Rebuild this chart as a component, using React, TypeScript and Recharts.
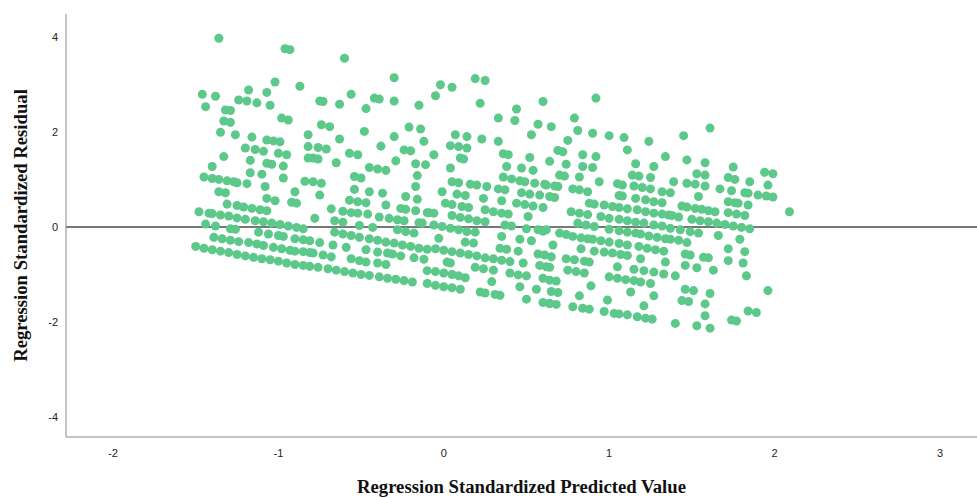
import React from "react";
import {
  ScatterChart,
  Scatter,
  XAxis,
  YAxis,
  ZAxis,
  ReferenceLine,
  Label,
} from "recharts";

const xTicks = [-2, -1, 0, 1, 2, 3];
const yTicks = [-4, -2, 0, 2, 4];

// predicted value, residual, left to right
const leftCases = [
  [-1.36, 3.97], [-0.96, 3.75], [-0.93, 3.73], [-1.02, 3.05], [-0.87, 2.96], [-1.18, 2.88],
  [-1.46, 2.79], [-1.38, 2.75], [-1.07, 2.83], [-1.24, 2.67], [-1.19, 2.65], [-1.13, 2.61],
  [-1.44, 2.53], [-1.05, 2.56], [-1.32, 2.46], [-1.29, 2.45], [-0.98, 2.29], [-0.94, 2.25],
  [-1.33, 2.23], [-1.29, 2.2], [-1.35, 1.99], [-1.26, 1.94], [-1.16, 1.89], [-1.07, 1.83],
  [-1.03, 1.81], [-0.99, 1.79], [-0.82, 1.94], [-1.2, 1.66], [-1.14, 1.63], [-1.09, 1.59],
  [-1.0, 1.55], [-0.95, 1.52], [-0.82, 1.69], [-1.33, 1.48], [-1.17, 1.4], [-1.07, 1.34],
  [-1.04, 1.32], [-0.97, 1.28], [-0.82, 1.45], [-1.4, 1.27], [-1.17, 1.14], [-1.1, 1.11],
  [-0.97, 1.03], [-1.45, 1.05], [-1.4, 1.02], [-1.36, 1.0], [-1.31, 0.97], [-1.27, 0.95],
  [-1.25, 0.93], [-1.19, 0.91], [-0.84, 0.96], [-1.08, 0.85], [-1.36, 0.74], [-1.32, 0.72],
  [-0.9, 0.74], [-1.07, 0.6], [-1.02, 0.55], [-0.92, 0.52], [-0.89, 0.5], [-1.31, 0.48],
  [-1.25, 0.45], [-1.21, 0.42], [-1.16, 0.39], [-1.11, 0.36], [-1.07, 0.34], [-1.48, 0.32],
  [-1.42, 0.29], [-1.4, 0.28], [-1.35, 0.25], [-1.3, 0.23], [-1.25, 0.19], [-1.2, 0.16],
  [-1.14, 0.13], [-1.09, 0.11], [-1.04, 0.08], [-0.99, 0.05], [-0.94, 0.02], [-0.89, -0.01],
  [-0.85, -0.04], [-1.44, 0.06], [-1.38, 0.02], [-1.29, -0.04], [-1.26, -0.05], [-1.12, -0.11],
  [-1.06, -0.15], [-1.0, -0.18], [-0.97, -0.2], [-0.9, -0.25], [-0.85, -0.27], [-0.81, -0.29],
  [-1.39, -0.22], [-1.34, -0.25], [-1.29, -0.28], [-1.24, -0.31], [-1.18, -0.33], [-1.13, -0.36],
  [-1.09, -0.39], [-1.03, -0.43], [-0.98, -0.46], [-0.93, -0.49], [-0.9, -0.51], [-0.85, -0.52],
  [-0.81, -0.54], [-1.5, -0.41], [-1.45, -0.45], [-1.4, -0.48], [-1.35, -0.51], [-1.3, -0.54],
  [-1.25, -0.58], [-1.2, -0.61], [-1.15, -0.64], [-1.1, -0.67], [-1.05, -0.69], [-1.0, -0.72],
  [-0.95, -0.76], [-0.9, -0.79], [-0.85, -0.81], [-0.81, -0.83],
];

const midLeftCases = [
  [-0.6, 3.55], [-0.3, 3.14], [-0.56, 2.79], [-0.75, 2.65], [-0.73, 2.64], [-0.63, 2.58],
  [-0.42, 2.71], [-0.39, 2.69], [-0.47, 2.49], [-0.3, 2.65], [-0.15, 2.56], [-0.74, 2.15],
  [-0.69, 2.11], [-0.48, 2.01], [-0.21, 2.1], [-0.14, 2.06], [-0.63, 1.85], [-0.3, 1.9],
  [-0.12, 1.8], [-0.76, 1.67], [-0.71, 1.64], [-0.38, 1.7], [-0.24, 1.62], [-0.2, 1.6],
  [-0.57, 1.55], [-0.52, 1.52], [-0.79, 1.45], [-0.76, 1.43], [-0.65, 1.35], [-0.29, 1.39],
  [-0.17, 1.33], [-0.11, 1.31], [-0.45, 1.25], [-0.4, 1.22], [-0.35, 1.19], [-0.54, 1.06],
  [-0.5, 1.03], [-0.16, 1.08], [-0.79, 0.95], [-0.74, 0.92], [-0.17, 0.85], [-0.54, 0.79],
  [-0.45, 0.74], [-0.37, 0.71], [-0.75, 0.67], [-0.23, 0.64], [-0.16, 0.58], [-0.57, 0.56],
  [-0.52, 0.53], [-0.47, 0.51], [-0.35, 0.46], [-0.26, 0.39], [-0.23, 0.37], [-0.68, 0.38],
  [-0.17, 0.34], [-0.61, 0.33], [-0.56, 0.3], [-0.52, 0.29], [-0.46, 0.27], [-0.1, 0.3],
  [-0.39, 0.21], [-0.33, 0.18], [-0.28, 0.15], [-0.24, 0.13], [-0.78, 0.18], [-0.66, 0.13],
  [-0.61, 0.1], [-0.51, 0.03], [-0.43, -0.01], [-0.15, 0.09], [-0.13, 0.08], [-0.28, -0.06],
  [-0.23, -0.1], [-0.18, -0.13], [-0.66, -0.11], [-0.61, -0.15], [-0.56, -0.18], [-0.51, -0.22],
  [-0.45, -0.25], [-0.4, -0.28], [-0.35, -0.32], [-0.3, -0.34], [-0.25, -0.38], [-0.2, -0.41],
  [-0.15, -0.45], [-0.1, -0.47], [-0.75, -0.33], [-0.67, -0.38], [-0.59, -0.43], [-0.47, -0.48],
  [-0.4, -0.53], [-0.34, -0.55], [-0.31, -0.57], [-0.26, -0.61], [-0.18, -0.65], [-0.12, -0.68],
  [-0.79, -0.55], [-0.73, -0.59], [-0.68, -0.63], [-0.56, -0.67], [-0.51, -0.71], [-0.47, -0.74],
  [-0.4, -0.76], [-0.35, -0.79], [-0.1, -0.92], [-0.76, -0.85], [-0.7, -0.88], [-0.65, -0.91],
  [-0.6, -0.94], [-0.55, -0.97], [-0.5, -1.0], [-0.45, -1.02], [-0.39, -1.05], [-0.34, -1.08],
  [-0.29, -1.1], [-0.24, -1.13], [-0.19, -1.16], [-0.1, -1.19],
];

const centerCases = [
  [-0.02, 2.99], [0.05, 2.94], [-0.05, 2.76], [0.19, 3.12], [0.25, 3.08], [0.22, 2.6],
  [0.6, 2.64], [0.44, 2.48], [0.33, 2.29], [0.43, 2.24], [0.57, 2.16], [0.53, 1.94],
  [0.07, 1.94], [0.14, 1.9], [0.23, 1.85], [0.33, 1.8], [0.04, 1.71], [0.09, 1.69],
  [0.14, 1.66], [0.1, 1.45], [0.12, 1.43], [-0.06, 1.52], [0.36, 1.54], [0.39, 1.52],
  [0.52, 1.46], [0.38, 1.27], [0.47, 1.24], [0.54, 1.19], [0.04, 1.24], [0.36, 1.05],
  [0.41, 1.01], [0.46, 0.97], [0.49, 0.95], [0.55, 0.92], [0.61, 0.9], [0.05, 0.95],
  [0.09, 0.93], [0.16, 0.9], [0.2, 0.88], [0.26, 0.85], [0.33, 0.8], [0.37, 0.78],
  [-0.01, 0.74], [0.47, 0.72], [0.52, 0.69], [0.58, 0.67], [0.08, 0.69], [0.13, 0.66],
  [0.24, 0.6], [0.35, 0.55], [0.44, 0.5], [0.49, 0.47], [0.54, 0.44], [0.6, 0.41],
  [0.01, 0.5], [0.05, 0.47], [0.11, 0.43], [0.15, 0.41], [0.25, 0.36], [0.3, 0.32],
  [0.35, 0.29], [0.39, 0.27], [-0.09, 0.3], [-0.06, 0.29], [0.05, 0.24], [0.1, 0.2],
  [0.15, 0.17], [0.2, 0.13], [0.51, 0.22], [0.25, 0.11], [-0.06, 0.04], [-0.01, 0.01],
  [0.04, -0.03], [0.09, -0.06], [0.14, -0.1], [0.19, -0.11], [0.37, 0.04], [0.41, 0.02],
  [0.5, -0.04], [0.57, -0.06], [0.6, -0.09], [-0.03, -0.24], [0.35, -0.2], [0.46, -0.26],
  [0.53, -0.29], [0.13, -0.32], [0.18, -0.34], [0.34, -0.45], [0.38, -0.47], [0.45, -0.51],
  [-0.05, -0.46], [0.0, -0.49], [0.05, -0.52], [0.1, -0.55], [0.15, -0.58], [0.2, -0.61],
  [0.25, -0.65], [0.3, -0.67], [0.35, -0.7], [0.4, -0.73], [0.57, -0.57], [0.61, -0.59],
  [0.48, -0.76], [0.02, -0.74], [0.04, -0.76], [0.58, -0.81], [0.62, -0.84], [0.19, -0.85],
  [0.24, -0.88], [0.3, -0.91], [-0.05, -0.94], [0.0, -0.97], [0.05, -1.0], [0.09, -1.03],
  [0.4, -0.97], [0.45, -1.01], [0.5, -1.03], [0.13, -1.07], [0.6, -1.08], [0.29, -1.15],
  [0.46, -1.26], [0.56, -1.31], [-0.05, -1.23], [0.0, -1.26], [0.05, -1.28], [0.1, -1.31],
  [0.22, -1.37], [0.25, -1.39], [0.31, -1.42], [0.34, -1.44], [0.5, -1.52], [0.6, -1.59],
  [0.64, -1.61],
];

const midRightCases = [
  [0.92, 2.71], [0.79, 2.29], [0.65, 2.11], [0.81, 2.03], [0.9, 1.97], [1.0, 1.92],
  [1.09, 1.88], [1.24, 1.8], [0.75, 1.82], [1.11, 1.62], [0.69, 1.61], [0.72, 1.58],
  [0.84, 1.52], [0.92, 1.48], [1.34, 1.48], [0.64, 1.38], [0.74, 1.32], [0.84, 1.27],
  [0.9, 1.25], [1.16, 1.33], [1.27, 1.27], [0.7, 1.09], [0.73, 1.07], [0.82, 1.05],
  [1.14, 1.09], [1.18, 1.07], [1.25, 1.04], [0.94, 0.95], [0.62, 0.88], [0.67, 0.86],
  [0.69, 0.85], [1.05, 0.91], [1.08, 0.88], [1.15, 0.86], [1.2, 0.83], [1.25, 0.8],
  [1.32, 0.74], [0.78, 0.8], [0.82, 0.78], [0.87, 0.74], [0.64, 0.64], [0.67, 0.62],
  [1.06, 0.66], [1.08, 0.65], [1.16, 0.6], [1.22, 0.57], [1.27, 0.53], [1.32, 0.51],
  [0.88, 0.5], [0.91, 0.48], [0.97, 0.46], [1.02, 0.43], [1.06, 0.41], [1.11, 0.38],
  [1.17, 0.36], [1.22, 0.32], [1.27, 0.29], [1.32, 0.27], [1.36, 0.25], [0.77, 0.32],
  [0.82, 0.29], [0.87, 0.26], [0.95, 0.22], [1.0, 0.18], [1.06, 0.16], [1.11, 0.13],
  [1.16, 0.1], [1.21, 0.08], [1.27, 0.04], [1.32, 0.02], [0.81, 0.08], [0.86, 0.04],
  [0.91, 0.01], [1.0, -0.05], [1.06, -0.08], [1.11, -0.11], [1.16, -0.13], [1.19, -0.15],
  [1.24, -0.19], [1.29, -0.22], [1.34, -0.25], [0.7, -0.13], [0.74, -0.16], [0.78, -0.2],
  [0.83, -0.23], [0.87, -0.25], [0.9, -0.26], [0.95, -0.29], [1.0, -0.32], [1.06, -0.35],
  [1.11, -0.38], [0.62, -0.06], [0.66, -0.38], [1.18, -0.41], [1.23, -0.45], [1.28, -0.48],
  [1.33, -0.51], [0.83, -0.46], [0.91, -0.51], [0.97, -0.53], [1.02, -0.55], [1.07, -0.58],
  [1.11, -0.6], [0.65, -0.63], [0.74, -0.67], [0.79, -0.69], [0.85, -0.72], [0.88, -0.74],
  [1.19, -0.67], [1.34, -0.74], [0.64, -0.85], [1.05, -0.84], [1.15, -0.89], [1.21, -0.92],
  [1.27, -0.95], [1.33, -0.99], [0.75, -0.91], [0.8, -0.94], [0.85, -0.97], [1.0, -1.05],
  [1.05, -1.08], [1.1, -1.11], [1.15, -1.13], [1.19, -1.16], [1.25, -1.19], [0.64, -1.12],
  [0.68, -1.14], [0.89, -1.24], [1.13, -1.37], [1.27, -1.45], [0.65, -1.36], [0.69, -1.38],
  [0.82, -1.45], [0.99, -1.54], [1.21, -1.66], [0.64, -1.61], [0.68, -1.63], [0.78, -1.68],
  [0.84, -1.71], [0.88, -1.73], [0.97, -1.78], [1.03, -1.82], [1.06, -1.83], [1.11, -1.85],
  [1.17, -1.89], [1.22, -1.92], [1.26, -1.94],
];

const rightCases = [
  [1.61, 2.08], [1.45, 1.92], [1.47, 1.41], [1.58, 1.35], [1.75, 1.26], [1.94, 1.15],
  [1.99, 1.12], [1.53, 1.12], [1.58, 1.09], [1.39, 0.95], [1.72, 1.04], [1.76, 1.0],
  [1.85, 0.95], [1.47, 0.92], [1.52, 0.9], [1.58, 0.86], [1.96, 0.88], [1.67, 0.8],
  [1.74, 0.76], [1.37, 0.72], [1.82, 0.72], [1.84, 0.71], [1.9, 0.67], [1.95, 0.65],
  [1.99, 0.63], [1.54, 0.64], [1.72, 0.53], [1.76, 0.51], [1.78, 0.5], [1.84, 0.46],
  [1.44, 0.44], [1.47, 0.42], [1.52, 0.39], [1.56, 0.37], [1.6, 0.34], [1.64, 0.32],
  [2.09, 0.32], [1.72, 0.3], [1.77, 0.27], [1.82, 0.24], [1.38, 0.24], [1.42, 0.21],
  [1.5, 0.16], [1.55, 0.13], [1.6, 0.11], [1.65, 0.08], [1.7, 0.05], [1.75, 0.02],
  [1.8, -0.01], [1.85, -0.04], [1.37, -0.03], [1.43, -0.06], [1.49, -0.1], [1.54, -0.13],
  [1.66, -0.18], [1.79, -0.26], [1.37, -0.26], [1.42, -0.28], [1.47, -0.33], [1.72, -0.46],
  [1.82, -0.52], [1.46, -0.57], [1.49, -0.59], [1.57, -0.64], [1.6, -0.65], [1.72, -0.71],
  [1.81, -0.76], [1.46, -0.81], [1.53, -0.86], [1.63, -0.91], [1.4, -1.03], [1.83, -1.03],
  [1.46, -1.31], [1.51, -1.34], [1.61, -1.4], [1.96, -1.34], [1.44, -1.55], [1.48, -1.57],
  [1.58, -1.62], [1.58, -1.87], [1.84, -1.77], [1.89, -1.8], [1.74, -1.96], [1.77, -1.98],
  [1.4, -2.03], [1.53, -2.08], [1.61, -2.13],
];

const groups = [leftCases, midLeftCases, centerCases, midRightCases, rightCases];

const toPoints = (rows: number[][]) => rows.map(([x, y]) => ({ x, y }));

const dotColor = "#5cc98b";
const tickStyle = { fill: "#222", fontSize: 11, fontFamily: "'Liberation Sans', Arial, sans-serif" };
const titleStyle = {
  fontFamily: "'Liberation Serif', 'Times New Roman', serif",
  fontWeight: "bold",
  fontSize: 18.7,
  fill: "#111",
};

export default function App() {
  return (
    <div style={{ position: "absolute", left: 0, top: 0 }}>
      <ScatterChart
        width={977}
        height={498}
        margin={{ top: 14, right: 0, bottom: 0, left: 26 }}
      >
        <XAxis
          type="number"
          dataKey="x"
          domain={[-2.284, 3.224]}
          ticks={xTicks}
          allowDataOverflow
          tickLine={false}
          tickMargin={6}
          stroke="#8a8a8a"
          tick={tickStyle}
          height={61}
        >
          <Label
            value="Regression Standardized Predicted Value"
            position="insideBottom"
            offset={5}
            style={titleStyle}
          />
        </XAxis>
        <YAxis
          type="number"
          dataKey="y"
          domain={[-4.42, 4.48]}
          ticks={yTicks}
          allowDataOverflow
          tickLine={false}
          stroke="#8a8a8a"
          tick={tickStyle}
          width={40}
        >
          <Label
            value="Regression Standardized Residual"
            angle={-90}
            position="insideLeft"
            offset={-6}
            style={{ ...titleStyle, textAnchor: "middle" }}
          />
        </YAxis>
        <ZAxis range={[64, 64]} />
        {groups.map((rows, i) => (
          <Scatter
            key={i}
            data={toPoints(rows)}
            fill={dotColor}
            isAnimationActive={false}
          />
        ))}
        <ReferenceLine y={0} stroke="#4a4a4a" strokeWidth={1.5} />
      </ScatterChart>
    </div>
  );
}
